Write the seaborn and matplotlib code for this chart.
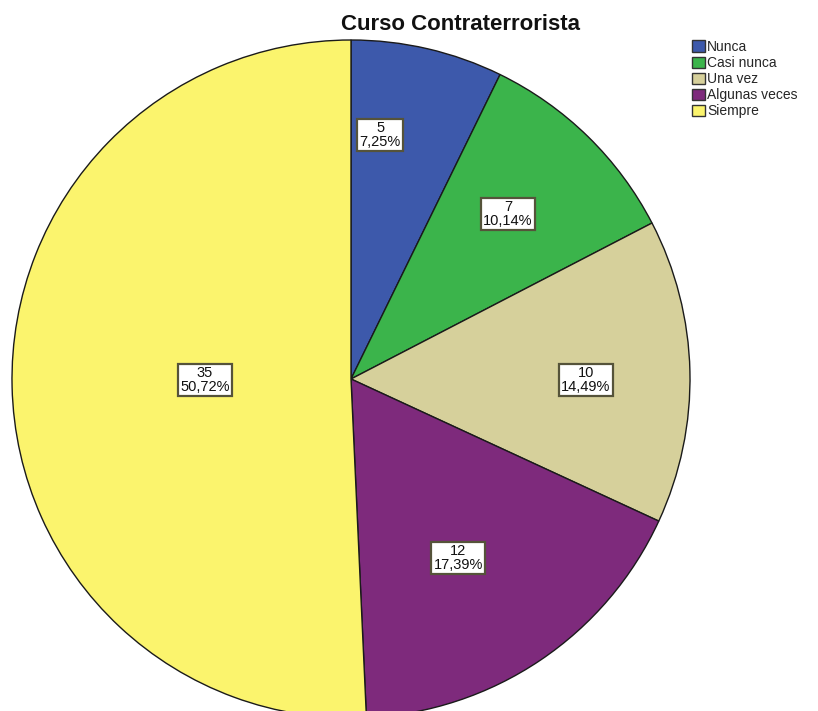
import matplotlib
matplotlib.use("Agg")
import matplotlib.pyplot as plt
import seaborn as sns
from matplotlib.patches import Patch

categories = ["Nunca", "Casi nunca", "Una vez", "Algunas veces", "Siempre"]
counts = [5, 7, 10, 12, 35]
percent_labels = ["7,25%", "10,14%", "14,49%", "17,39%", "50,72%"]
colors = ["#3D59AB", "#3BB44B", "#D6D09B", "#7E2A7C", "#FBF46D"]
# label anchor positions (in pie-radius units)
label_pos = [(0.086, 0.72), (0.463, 0.487), (0.693, -0.003), (0.316, -0.528), (-0.431, -0.003)]

sns.set_theme(style="white")
plt.rcParams['font.family'] = ['Liberation Sans', 'DejaVu Sans']

fig = plt.figure(figsize=(8.18, 7.11), dpi=100)
ax = fig.add_axes([0, 0, 1, 1])

wedges, _ = ax.pie(counts, colors=colors, startangle=90, counterclock=False,
                   wedgeprops=dict(edgecolor="#1a1a1a", linewidth=1.0),
                   radius=1.0, center=(0, 0))

for (x, y), c, p in zip(label_pos, counts, percent_labels):
    ax.text(x, y, f"{c}\n{p}", ha="center", va="center", fontsize=10.5,
            color="#111111", linespacing=0.95,
            bbox=dict(boxstyle="square,pad=0.15", facecolor="white",
                      edgecolor="#55533a", linewidth=1.6))

px = 339.0
cx, cy = 351.0, 379.0
ax.set_xlim(-cx / px, (818 - cx) / px)
ax.set_ylim(-(711 - cy) / px, cy / px)
ax.set_aspect("auto")
ax.axis("off")

fig.text(460 / 818, 1 - 25 / 711, "Curso Contraterrorista", ha="center", va="center",
         fontsize=16, fontweight="bold", color="#111111")

handles = [Patch(facecolor=col, edgecolor="#333333", linewidth=1.0) for col in colors]
leg = fig.legend(handles, categories, loc="upper left", bbox_to_anchor=(692 / 818, 1 - 40 / 711),
                 frameon=False, fontsize=10, handlelength=0.9, handleheight=0.9,
                 handletextpad=0.2, labelspacing=0.15, borderpad=0, borderaxespad=0)

fig.savefig("out.png", dpi=100)
